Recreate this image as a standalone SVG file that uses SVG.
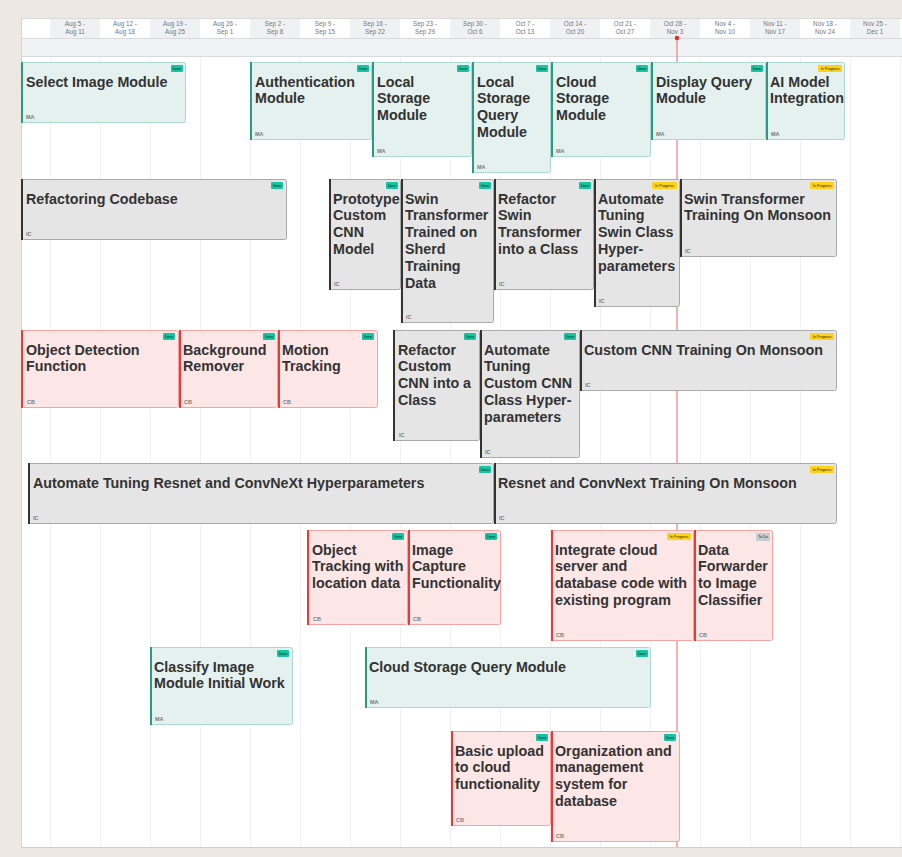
<svg xmlns="http://www.w3.org/2000/svg" width="902" height="857" viewBox="0 0 902 857">
<style>
.bg{fill:#eee8e2}
.panel{fill:#ffffff}
.hs{fill:#f0f1f3}
.band{fill:#f1f2f4}
.hl{stroke:#d9dadd;stroke-width:1}
.grid{stroke:#f1f1f1;stroke-width:1}
.ht{font-family:"Liberation Sans",Arial,sans-serif;font-size:6.3px;fill:#777;text-anchor:middle}
.tl{fill:#e4f1ee;stroke:#acd9cf;stroke-width:1}
.tlb{fill:#2a9a84}
.gr{fill:#e5e5e5;stroke:#a9a9a9;stroke-width:1}
.grb{fill:#333333}
.pk{fill:#fde6e6;stroke:#f5a3a3;stroke-width:1}
.pkb{fill:#e8393b}
.t{font-family:"Liberation Sans",Arial,sans-serif;font-size:14.3px;font-weight:bold;fill:#333333}
.o{font-family:"Liberation Sans",Arial,sans-serif;font-size:5.5px;font-weight:bold;fill:#7a7a7a}
.done{fill:#14c4a2}
.prog{fill:#ffd21a}
.todo{fill:#c6cad3}
.tg{font-family:"Liberation Sans",Arial,sans-serif;font-size:3.6px;fill:#1a1a1a;text-anchor:middle}
</style>
<rect class="bg" x="0" y="0" width="902" height="857"/>
<rect class="panel" x="21" y="18" width="881" height="830"/>
<g id="header">
<rect class="hs" x="50" y="18" width="50" height="20"/>
<rect class="hs" x="150" y="18" width="50" height="20"/>
<rect class="hs" x="250" y="18" width="50" height="20"/>
<rect class="hs" x="350" y="18" width="50" height="20"/>
<rect class="hs" x="450" y="18" width="50" height="20"/>
<rect class="hs" x="550" y="18" width="50" height="20"/>
<rect class="hs" x="650" y="18" width="50" height="20"/>
<rect class="hs" x="750" y="18" width="50" height="20"/>
<rect class="hs" x="850" y="18" width="50" height="20"/>
<rect class="band" x="21" y="38" width="881" height="18"/>
<line class="hl" x1="21" y1="18.5" x2="902" y2="18.5"/>
<line class="hl" x1="21" y1="38.5" x2="902" y2="38.5"/>
<line class="hl" x1="21" y1="56.5" x2="902" y2="56.5"/>
<text class="ht" x="75" y="26">Aug 5 -</text><text class="ht" x="75" y="33.5">Aug 11</text>
<text class="ht" x="125" y="26">Aug 12 -</text><text class="ht" x="125" y="33.5">Aug 18</text>
<text class="ht" x="175" y="26">Aug 19 -</text><text class="ht" x="175" y="33.5">Aug 25</text>
<text class="ht" x="225" y="26">Aug 26 -</text><text class="ht" x="225" y="33.5">Sep 1</text>
<text class="ht" x="275" y="26">Sep 2 -</text><text class="ht" x="275" y="33.5">Sep 8</text>
<text class="ht" x="325" y="26">Sep 9 -</text><text class="ht" x="325" y="33.5">Sep 15</text>
<text class="ht" x="375" y="26">Sep 16 -</text><text class="ht" x="375" y="33.5">Sep 22</text>
<text class="ht" x="425" y="26">Sep 23 -</text><text class="ht" x="425" y="33.5">Sep 29</text>
<text class="ht" x="475" y="26">Sep 30 -</text><text class="ht" x="475" y="33.5">Oct 6</text>
<text class="ht" x="525" y="26">Oct 7 -</text><text class="ht" x="525" y="33.5">Oct 13</text>
<text class="ht" x="575" y="26">Oct 14 -</text><text class="ht" x="575" y="33.5">Oct 20</text>
<text class="ht" x="625" y="26">Oct 21 -</text><text class="ht" x="625" y="33.5">Oct 27</text>
<text class="ht" x="675" y="26">Oct 28 -</text><text class="ht" x="675" y="33.5">Nov 3</text>
<text class="ht" x="725" y="26">Nov 4 -</text><text class="ht" x="725" y="33.5">Nov 10</text>
<text class="ht" x="775" y="26">Nov 11 -</text><text class="ht" x="775" y="33.5">Nov 17</text>
<text class="ht" x="825" y="26">Nov 18 -</text><text class="ht" x="825" y="33.5">Nov 24</text>
<text class="ht" x="875" y="26">Nov 25 -</text><text class="ht" x="875" y="33.5">Dec 1</text>
</g>
<g id="grid">
<line class="grid" x1="50.5" y1="57" x2="50.5" y2="847"/>
<line class="grid" x1="100.5" y1="57" x2="100.5" y2="847"/>
<line class="grid" x1="150.5" y1="57" x2="150.5" y2="847"/>
<line class="grid" x1="200.5" y1="57" x2="200.5" y2="847"/>
<line class="grid" x1="250.5" y1="57" x2="250.5" y2="847"/>
<line class="grid" x1="300.5" y1="57" x2="300.5" y2="847"/>
<line class="grid" x1="350.5" y1="57" x2="350.5" y2="847"/>
<line class="grid" x1="400.5" y1="57" x2="400.5" y2="847"/>
<line class="grid" x1="450.5" y1="57" x2="450.5" y2="847"/>
<line class="grid" x1="500.5" y1="57" x2="500.5" y2="847"/>
<line class="grid" x1="550.5" y1="57" x2="550.5" y2="847"/>
<line class="grid" x1="600.5" y1="57" x2="600.5" y2="847"/>
<line class="grid" x1="650.5" y1="57" x2="650.5" y2="847"/>
<line class="grid" x1="700.5" y1="57" x2="700.5" y2="847"/>
<line class="grid" x1="750.5" y1="57" x2="750.5" y2="847"/>
<line class="grid" x1="800.5" y1="57" x2="800.5" y2="847"/>
<line class="grid" x1="850.5" y1="57" x2="850.5" y2="847"/>
<line class="grid" x1="900.5" y1="57" x2="900.5" y2="847"/>
<line x1="21.5" y1="18" x2="21.5" y2="848" stroke="#d4d4d4" stroke-width="1"/>
<line x1="21" y1="847.5" x2="902" y2="847.5" stroke="#cfcfcf" stroke-width="1.2"/>
</g>
<g id="today">
<line x1="677" y1="38" x2="677" y2="847" stroke="#e88080" stroke-width="1.2"/>
<circle cx="677" cy="38" r="2.3" fill="#e02f2f"/>
</g>

<g id="select-image-module">
<rect class="tl" x="21.5" y="62.5" width="164" height="60" rx="2"/><rect class="tlb" x="21" y="62" width="2" height="61"/>
<rect class="done" x="171" y="65" width="12" height="7" rx="1"/><text class="tg" x="177" y="69.8">Done</text>
<text class="t" x="26" y="86.5">Select Image Module</text>
<text class="o" x="26" y="119">MA</text>
</g>
<g id="authentication-module">
<rect class="tl" x="250.5" y="62.5" width="121" height="77" rx="2"/><rect class="tlb" x="250" y="62" width="2" height="78"/>
<rect class="done" x="357" y="65" width="12" height="7" rx="1"/><text class="tg" x="363" y="69.8">Done</text>
<text class="t" x="255" y="86.5">Authentication</text><text class="t" x="255" y="103.3">Module</text>
<text class="o" x="255" y="136">MA</text>
</g>
<g id="local-storage-module">
<rect class="tl" x="372.5" y="62.5" width="99" height="94" rx="2"/><rect class="tlb" x="372" y="62" width="2" height="95"/>
<rect class="done" x="457" y="65" width="12" height="7" rx="1"/><text class="tg" x="463" y="69.8">Done</text>
<text class="t" x="377" y="86.5">Local</text><text class="t" x="377" y="103.3">Storage</text><text class="t" x="377" y="120.1">Module</text>
<text class="o" x="377" y="153">MA</text>
</g>
<g id="local-storage-query-module">
<rect class="tl" x="472.5" y="62.5" width="78" height="110" rx="2"/><rect class="tlb" x="472" y="62" width="2" height="111"/>
<rect class="done" x="536" y="65" width="12" height="7" rx="1"/><text class="tg" x="542" y="69.8">Done</text>
<text class="t" x="477" y="86.5">Local</text><text class="t" x="477" y="103.3">Storage</text><text class="t" x="477" y="120.1">Query</text><text class="t" x="477" y="136.9">Module</text>
<text class="o" x="477" y="169">MA</text>
</g>
<g id="cloud-storage-module">
<rect class="tl" x="551.5" y="62.5" width="99" height="94" rx="2"/><rect class="tlb" x="551" y="62" width="2" height="95"/>
<rect class="done" x="636" y="65" width="12" height="7" rx="1"/><text class="tg" x="642" y="69.8">Done</text>
<text class="t" x="556" y="86.5">Cloud</text><text class="t" x="556" y="103.3">Storage</text><text class="t" x="556" y="120.1">Module</text>
<text class="o" x="556" y="153">MA</text>
</g>
<g id="display-query-module">
<rect class="tl" x="651.5" y="62.5" width="114" height="77" rx="2"/><rect class="tlb" x="651" y="62" width="2" height="78"/>
<rect class="done" x="751" y="65" width="12" height="7" rx="1"/><text class="tg" x="757" y="69.8">Done</text>
<text class="t" x="656" y="86.5">Display Query</text><text class="t" x="656" y="103.3">Module</text>
<text class="o" x="656" y="136">MA</text>
</g>
<g id="ai-model-integration">
<rect class="tl" x="766.5" y="62.5" width="78" height="77" rx="2"/><rect class="tlb" x="766" y="62" width="2" height="78"/>
<rect class="prog" x="818" y="65" width="24" height="7" rx="1"/><text class="tg" x="830" y="69.8">In Progress</text>
<text class="t" x="770" y="86.5">AI Model</text><text class="t" x="770" y="103.3">Integration</text>
<text class="o" x="771" y="136">MA</text>
</g>

<g id="refactoring-codebase">
<rect class="gr" x="21.5" y="179.5" width="265" height="60" rx="2"/><rect class="grb" x="21" y="179" width="2" height="61"/>
<rect class="done" x="271" y="182" width="12" height="7" rx="1"/><text class="tg" x="277" y="186.8">Done</text>
<text class="t" x="26" y="203.5">Refactoring Codebase</text>
<text class="o" x="26" y="236">IC</text>
</g>
<g id="prototype-custom-cnn-model">
<rect class="gr" x="329.5" y="179.5" width="71" height="110" rx="2"/><rect class="grb" x="329" y="179" width="2" height="111"/>
<rect class="done" x="386" y="182" width="12" height="7" rx="1"/><text class="tg" x="392" y="186.8">Done</text>
<text class="t" x="333" y="203.5">Prototype</text><text class="t" x="333" y="220.3">Custom</text><text class="t" x="333" y="237.1">CNN</text><text class="t" x="333" y="253.9">Model</text>
<text class="o" x="334" y="286">IC</text>
</g>
<g id="swin-transformer-trained">
<rect class="gr" x="401.5" y="179.5" width="92" height="143" rx="2"/><rect class="grb" x="401" y="179" width="2" height="144"/>
<rect class="done" x="479" y="182" width="12" height="7" rx="1"/><text class="tg" x="485" y="186.8">Done</text>
<text class="t" x="405" y="203.5">Swin</text><text class="t" x="405" y="220.3">Transformer</text><text class="t" x="405" y="237.1">Trained on</text><text class="t" x="405" y="253.9">Sherd</text><text class="t" x="405" y="270.7">Training</text><text class="t" x="405" y="287.5">Data</text>
<text class="o" x="406" y="319">IC</text>
</g>
<g id="refactor-swin-transformer">
<rect class="gr" x="494.5" y="179.5" width="99" height="110" rx="2"/><rect class="grb" x="494" y="179" width="2" height="111"/>
<rect class="done" x="579" y="182" width="12" height="7" rx="1"/><text class="tg" x="585" y="186.8">Done</text>
<text class="t" x="498" y="203.5">Refactor</text><text class="t" x="498" y="220.3">Swin</text><text class="t" x="498" y="237.1">Transformer</text><text class="t" x="498" y="253.9">into a Class</text>
<text class="o" x="499" y="286">IC</text>
</g>
<g id="automate-tuning-swin">
<rect class="gr" x="594.5" y="179.5" width="85" height="127" rx="2"/><rect class="grb" x="594" y="179" width="2" height="128"/>
<rect class="prog" x="652" y="182" width="25" height="7" rx="1"/><text class="tg" x="664.5" y="186.8">In Progress</text>
<text class="t" x="598" y="203.5">Automate</text><text class="t" x="598" y="220.3">Tuning</text><text class="t" x="598" y="237.1">Swin Class</text><text class="t" x="598" y="253.9">Hyper-</text><text class="t" x="598" y="270.7">parameters</text>
<text class="o" x="599" y="303">IC</text>
</g>
<g id="swin-training-monsoon">
<rect class="gr" x="680.5" y="179.5" width="156" height="77" rx="2"/><rect class="grb" x="680" y="179" width="2" height="78"/>
<rect class="prog" x="810" y="182" width="24" height="7" rx="1"/><text class="tg" x="822" y="186.8">In Progress</text>
<text class="t" x="684" y="203.5">Swin Transformer</text><text class="t" x="684" y="220.3">Training On Monsoon</text>
<text class="o" x="685" y="253">IC</text>
</g>

<g id="object-detection-function">
<rect class="pk" x="21.5" y="330.5" width="157" height="77" rx="2"/><rect class="pkb" x="21" y="330" width="2" height="78"/>
<rect class="done" x="163" y="333" width="12" height="7" rx="1"/><text class="tg" x="169" y="337.8">Done</text>
<text class="t" x="26" y="354.5">Object Detection</text><text class="t" x="26" y="371.3">Function</text>
<text class="o" x="27" y="404">CB</text>
</g>
<g id="background-remover">
<rect class="pk" x="179.5" y="330.5" width="98" height="77" rx="2"/><rect class="pkb" x="179" y="330" width="2" height="78"/>
<rect class="done" x="263" y="333" width="12" height="7" rx="1"/><text class="tg" x="269" y="337.8">Done</text>
<text class="t" x="183" y="354.5">Background</text><text class="t" x="183" y="371.3">Remover</text>
<text class="o" x="184" y="404">CB</text>
</g>
<g id="motion-tracking">
<rect class="pk" x="278.5" y="330.5" width="99" height="77" rx="2"/><rect class="pkb" x="278" y="330" width="2" height="78"/>
<rect class="done" x="362" y="333" width="12" height="7" rx="1"/><text class="tg" x="368" y="337.8">Done</text>
<text class="t" x="282" y="354.5">Motion</text><text class="t" x="282" y="371.3">Tracking</text>
<text class="o" x="283" y="404">CB</text>
</g>
<g id="refactor-custom-cnn">
<rect class="gr" x="393.5" y="330.5" width="86" height="110" rx="2"/><rect class="grb" x="393" y="330" width="2" height="111"/>
<rect class="done" x="464" y="333" width="12" height="7" rx="1"/><text class="tg" x="470" y="337.8">Done</text>
<text class="t" x="398" y="354.5">Refactor</text><text class="t" x="398" y="371.3">Custom</text><text class="t" x="398" y="388.1">CNN into a</text><text class="t" x="398" y="404.9">Class</text>
<text class="o" x="399" y="437">IC</text>
</g>
<g id="automate-tuning-custom-cnn">
<rect class="gr" x="480.5" y="330.5" width="99" height="127" rx="2"/><rect class="grb" x="480" y="330" width="2" height="128"/>
<rect class="done" x="564" y="333" width="12" height="7" rx="1"/><text class="tg" x="570" y="337.8">Done</text>
<text class="t" x="484" y="354.5">Automate</text><text class="t" x="484" y="371.3">Tuning</text><text class="t" x="484" y="388.1">Custom CNN</text><text class="t" x="484" y="404.9">Class Hyper-</text><text class="t" x="484" y="421.7">parameters</text>
<text class="o" x="485" y="454">IC</text>
</g>
<g id="custom-cnn-training-monsoon">
<rect class="gr" x="580.5" y="330.5" width="256" height="60" rx="2"/><rect class="grb" x="580" y="330" width="2" height="61"/>
<rect class="prog" x="810" y="333" width="24" height="7" rx="1"/><text class="tg" x="822" y="337.8">In Progress</text>
<text class="t" x="584" y="354.5">Custom CNN Training On Monsoon</text>
<text class="o" x="585" y="387">IC</text>
</g>

<g id="automate-tuning-resnet">
<rect class="gr" x="28.5" y="463.5" width="465" height="60" rx="2"/><rect class="grb" x="28" y="463" width="2" height="61"/>
<rect class="done" x="479" y="466" width="12" height="7" rx="1"/><text class="tg" x="485" y="470.8">Done</text>
<text class="t" x="33" y="487.5">Automate Tuning Resnet and ConvNeXt Hyperparameters</text>
<text class="o" x="33" y="520">IC</text>
</g>
<g id="resnet-convnext-training">
<rect class="gr" x="494.5" y="463.5" width="342" height="60" rx="2"/><rect class="grb" x="494" y="463" width="2" height="61"/>
<rect class="prog" x="810" y="466" width="24" height="7" rx="1"/><text class="tg" x="822" y="470.8">In Progress</text>
<text class="t" x="498" y="487.5">Resnet and ConvNext Training On Monsoon</text>
<text class="o" x="499" y="520">IC</text>
</g>

<g id="object-tracking-location">
<rect class="pk" x="307.5" y="530.5" width="100" height="94" rx="2"/><rect class="pkb" x="307" y="530" width="2" height="95"/>
<rect class="done" x="392" y="533" width="12" height="7" rx="1"/><text class="tg" x="398" y="537.8">Done</text>
<text class="t" x="312" y="554.5">Object</text><text class="t" x="312" y="571.3">Tracking with</text><text class="t" x="312" y="588.1">location data</text>
<text class="o" x="313" y="621">CB</text>
</g>
<g id="image-capture">
<rect class="pk" x="408.5" y="530.5" width="92" height="94" rx="2"/><rect class="pkb" x="408" y="530" width="2" height="95"/>
<rect class="done" x="485" y="533" width="12" height="7" rx="1"/><text class="tg" x="491" y="537.8">Done</text>
<text class="t" x="412" y="554.5">Image</text><text class="t" x="412" y="571.3">Capture</text><text class="t" x="412" y="588.1">Functionality</text>
<text class="o" x="413" y="621">CB</text>
</g>
<g id="integrate-cloud-server">
<rect class="pk" x="551.5" y="530.5" width="142" height="110" rx="2"/><rect class="pkb" x="551" y="530" width="2" height="111"/>
<rect class="prog" x="667" y="533" width="24" height="7" rx="1"/><text class="tg" x="679" y="537.8">In Progress</text>
<text class="t" x="555" y="554.5">Integrate cloud</text><text class="t" x="555" y="571.3">server and</text><text class="t" x="555" y="588.1">database code with</text><text class="t" x="555" y="604.9">existing program</text>
<text class="o" x="556" y="637">CB</text>
</g>
<g id="data-forwarder">
<rect class="pk" x="694.5" y="530.5" width="78" height="110" rx="2"/><rect class="pkb" x="694" y="530" width="2" height="111"/>
<rect class="todo" x="756" y="533" width="14" height="8" rx="1"/><text class="tg" x="763" y="538.3">To Do</text>
<text class="t" x="698" y="554.5">Data</text><text class="t" x="698" y="571.3">Forwarder</text><text class="t" x="698" y="588.1">to Image</text><text class="t" x="698" y="604.9">Classifier</text>
<text class="o" x="699" y="637">CB</text>
</g>

<g id="classify-image-module">
<rect class="tl" x="150.5" y="647.5" width="142" height="77" rx="2"/><rect class="tlb" x="150" y="647" width="2" height="78"/>
<rect class="done" x="277" y="650" width="12" height="7" rx="1"/><text class="tg" x="283" y="654.8">Done</text>
<text class="t" x="154" y="671.5">Classify Image</text><text class="t" x="154" y="688.3">Module Initial Work</text>
<text class="o" x="155" y="721">MA</text>
</g>
<g id="cloud-storage-query-module">
<rect class="tl" x="365.5" y="647.5" width="285" height="60" rx="2"/><rect class="tlb" x="365" y="647" width="2" height="61"/>
<rect class="done" x="636" y="650" width="12" height="7" rx="1"/><text class="tg" x="642" y="654.8">Done</text>
<text class="t" x="369" y="671.5">Cloud Storage Query Module</text>
<text class="o" x="370" y="704">MA</text>
</g>

<g id="basic-upload">
<rect class="pk" x="451.5" y="731.5" width="99" height="94" rx="2"/><rect class="pkb" x="451" y="731" width="2" height="95"/>
<rect class="done" x="536" y="734" width="12" height="7" rx="1"/><text class="tg" x="542" y="738.8">Done</text>
<text class="t" x="455" y="755.5">Basic upload</text><text class="t" x="455" y="772.3">to cloud</text><text class="t" x="455" y="789.1">functionality</text>
<text class="o" x="456" y="822">CB</text>
</g>
<g id="organization-management">
<rect class="pk" x="551.5" y="731.5" width="128" height="110" rx="2"/><rect class="pkb" x="551" y="731" width="2" height="111"/>
<rect class="done" x="664" y="734" width="12" height="7" rx="1"/><text class="tg" x="670" y="738.8">Done</text>
<text class="t" x="555" y="755.5">Organization and</text><text class="t" x="555" y="772.3">management</text><text class="t" x="555" y="789.1">system for</text><text class="t" x="555" y="805.9">database</text>
<text class="o" x="556" y="838">CB</text>
</g>
</svg>
